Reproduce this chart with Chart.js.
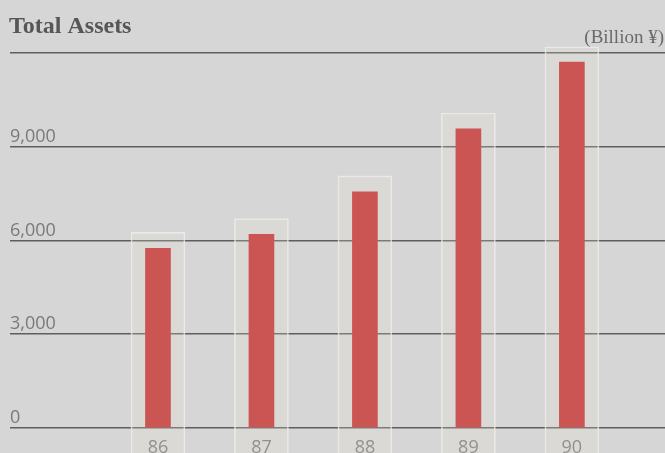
<!DOCTYPE html>
<html>
<head>
<meta charset="utf-8">
<script src="https://cdn.jsdelivr.net/npm/chart.js@4.4.0/dist/chart.umd.min.js"></script>
<style>
  body { margin: 0; background: #d6d6d6; }
  canvas { display: block; }
</style>
</head>
<body>
<canvas id="chart" width="665" height="453"></canvas>
<script>
// Fiscal years and total assets (billion yen)
var years = [86, 87, 88, 89, 90];
var totalAssets = [5750, 6200, 7560, 9570, 11710];
// tops of the pale panels behind each bar
var panelTops = [6260, 6700, 8070, 10080, 12200];
var yTicks = [0, 3000, 6000, 9000, 12000];

var titleText = 'Total Assets';
var unitText = '(Billion \u00a5)';

// background + header texts
var headerPlugin = {
  id: 'header',
  beforeDraw: function(chart) {
    var ctx = chart.ctx;
    ctx.save();
    ctx.fillStyle = '#d6d6d6';
    ctx.fillRect(0, 0, chart.width, chart.height);
    ctx.restore();
  },
  afterDraw: function(chart) {
    var ctx = chart.ctx;
    ctx.save();
    ctx.fillStyle = '#565656';
    ctx.font = 'bold 24px "Liberation Serif"';
    ctx.textBaseline = 'alphabetic';
    ctx.textAlign = 'left';
    ctx.fillText(titleText, 9, 33);
    ctx.fillStyle = '#6a6a6a';
    ctx.font = '19px "Liberation Serif"';
    ctx.textAlign = 'right';
    ctx.fillText(unitText, 664, 43);
    ctx.restore();
  }
};

var barData = years.map(function(y, i) { return { x: y, y: totalAssets[i] }; });
var panelData = years.map(function(y, i) { return { x: y, y: [-1000, panelTops[i]] }; });

new Chart(document.getElementById('chart'), {
  type: 'bar',
  data: {
    datasets: [{
      label: 'Total Assets',
      data: barData,
      backgroundColor: '#cb5552',
      barThickness: 25,
      grouped: false,
      order: 1
    }, {
      label: 'panel',
      data: panelData,
      backgroundColor: 'rgba(238,226,214,0.22)',
      borderColor: 'rgba(240,240,240,0.75)',
      borderWidth: 1,
      barThickness: 54,
      grouped: false,
      clip: false,
      order: 2
    }]
  },
  options: {
    responsive: false,
    animation: false,
    layout: { padding: { top: 53, left: 10, right: 0, bottom: 0 } },
    plugins: {
      legend: { display: false },
      title: { display: false },
      tooltip: { enabled: false }
    },
    scales: {
      x: {
        type: 'linear',
        offset: false,
        min: 84.57,
        max: 90.9,
        grid: { display: false, drawTicks: false },
        border: { display: false },
        afterFit: function(scale) { scale.height = 25; },
        afterBuildTicks: function(scale) {
          scale.ticks = years.map(function(y) { return { value: y }; });
        },
        ticks: {
          padding: 9,
          color: '#7a7a7a',
          font: { family: 'Open Sans', size: 18 },
          callback: function(v) { return String(v); }
        }
      },
      y: {
        min: 0,
        max: 12000,
        afterFit: function(scale) { scale.width = 0; },
        afterBuildTicks: function(scale) {
          scale.ticks = yTicks.map(function(v) { return { value: v }; });
        },
        grid: { color: '#5e5e5e', lineWidth: 1.6, drawTicks: false },
        border: { display: false },
        ticks: {
          mirror: true,
          padding: 0,
          labelOffset: -10,
          color: '#7a7a7a',
          font: { family: 'Open Sans', size: 18 },
          callback: function(v) {
            if (v === 12000) return '';
            return v.toLocaleString('en-US');
          }
        }
      }
    }
  },
  plugins: [headerPlugin]
});
</script>
</body>
</html>
